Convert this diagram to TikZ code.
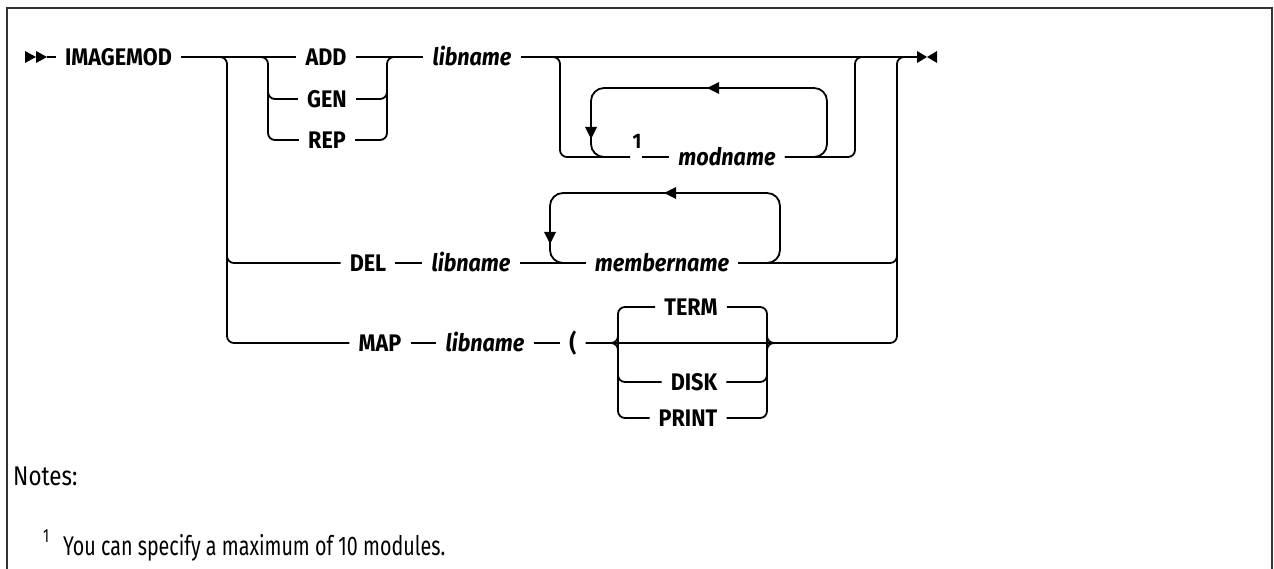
\documentclass[tikz,border=0pt]{standalone}
\usepackage{fontspec}
\setmainfont{Fira Sans}
\newfontfamily\labelfont{Fira Sans}[FakeStretch=0.9]
\newfontfamily\notefont{Fira Sans}[FakeStretch=0.73]
\newfontfamily\notehead{Fira Sans}[FakeStretch=0.83]
\begin{document}
\begin{tikzpicture}[x=1pt,y=-1pt]
\tikzset{
 kw/.style={font=\labelfont\fontsize{24}{28}\selectfont\bfseries, text height=16.5pt, text depth=0pt, inner xsep=9pt, inner ysep=0pt},
 var/.style={kw, font=\labelfont\fontsize{24}{28}\selectfont\bfseries\itshape},
 conn/.style={line width=1.8pt, rounded corners=7pt},
 loopline/.style={line width=1.8pt, rounded corners=13pt},
 note/.style={font=\notefont\fontsize{27}{32}\selectfont, text height=18pt, text depth=0pt, inner sep=0pt, anchor=west},
 larr/.pic={\fill (-6,0) -- (6,-6) -- (6,6) -- cycle;},
 darr/.pic={\fill (0,6) -- (-6,-6) -- (6,-6) -- cycle;}
}
\useasboundingbox (0,0) rectangle (1274,569);
\draw[line width=2.5pt, black!80] (7,569) -- (7,8) -- (1272,8) -- (1272,569);

% nodes
\node[kw] (imagemod) at (118.5,57) {IMAGEMOD};
\node[kw] (add) at (326,57) {ADD};
\node[kw] (gen) at (327,99) {GEN};
\node[kw] (rep) at (327,140) {REP};
\node[var] (lib1) at (472,57) {libname};
\node[kw, inner xsep=0pt, font=\labelfont\fontsize{21}{24}\selectfont\bfseries, text height=14.5pt] (fn1) at (637,141) {1};
\node[var] (modname) at (727,157) {modname};
\node[kw] (del) at (368,263) {DEL};
\node[var] (lib2) at (471,263) {libname};
\node[var] (member) at (662,263) {membername};
\node[kw] (map) at (380,343) {MAP};
\node[var] (lib3) at (485,343) {libname};
\node[kw] (paren) at (573,343) {(};
\node[kw] (term) at (691,307) {TERM};
\node[kw] (disk) at (694,382) {DISK};
\node[kw] (print) at (688,418) {PRINT};

\node[note, font=\notehead\fontsize{27}{32}\selectfont] (notes) at (13,476) {Notes:};
\node[note, font=\notefont\fontsize{19}{22}\selectfont, text height=13pt] (fnnum) at (43,536) {1};
\node[note] (fntext) at (63,546) {You can specify a maximum of 10 modules.};

% start and end symbols
\coordinate (start) at (47,57);
\coordinate (endp) at (917,57);
\fill (25,51) -- (36,57) -- (25,63) -- cycle;
\fill (36,51) -- (47,57) -- (36,63) -- cycle;
\fill (917,51) -- (927,57) -- (917,63) -- cycle;
\fill (937,51) -- (927,57) -- (937,63) -- cycle;

% main line
\draw[conn] (start) -- (imagemod.west);
\draw[conn] (imagemod.east) -- (add.west);
\draw[conn] (add.east) -- (lib1.west);
\draw[conn] (lib1.east) -- (endp);

% outer choice
\draw[conn] (213,57) -- (227,57) -- (227,343) -- (map.west);
\draw[conn] (227,250) -- (227,263) -- (del.west);
\draw[conn] (member.east) -- (897,263) -- (897,57) -- (911,57);
\draw[conn] (paren.east) -- (897,343) -- (897,250);

% ADD / GEN / REP
\draw[conn] (254,57) -- (268,57) -- (268,140) -- (rep.west);
\draw[conn] (268,85) -- (268,99) -- (gen.west);
\draw[conn] (rep.east) -- (387,140) -- (387,57) -- (401,57);
\draw[conn] (gen.east) -- (387,99) -- (387,85);

% optional modname with repeat
\coordinate (g1) at (630,157);
\coordinate (g2) at (642,157);
\draw[conn] (546,57) -- (560,57) -- (560,157) -- (g1);
\draw[conn] (g2) -- (modname.west);
\draw[conn] (modname.east) -- (855,157) -- (855,57) -- (869,57);
\draw[loopline] (modname.east) -- (827,157) -- (827,88) -- (591,88) -- (591,157) -- (615,157);
\pic at (713,88) {larr};
\pic at (591,133) {darr};

% DEL row
\draw[conn] (del.east) -- (lib2.west);
\draw[conn] (lib2.east) -- (member.west);
\draw[loopline] (member.east) -- (780,263) -- (780,193) -- (550,193) -- (550,263) -- (member.west);
\pic at (670,193) {larr};
\pic at (550,238) {darr};

% MAP row
\draw[conn] (map.east) -- (lib3.west);
\draw[conn] (lib3.east) -- (paren.west);
\draw[conn] (term.west) -- (618,307) -- (618,418) -- (print.west);
\draw[conn] (618,370) -- (618,382) -- (disk.west);
\draw[conn] (604,343) -- (618,343) -- (618,329);
\draw[conn] (604,343) -- (618,343) -- (618,357);
\draw[conn] (term.east) -- (767,307) -- (767,418) -- (print.east);
\draw[conn] (disk.east) -- (767,382) -- (767,370);
\draw[conn] (781,343) -- (767,343) -- (767,329);
\draw[conn] (781,343) -- (767,343) -- (767,357);
\end{tikzpicture}
\end{document}
